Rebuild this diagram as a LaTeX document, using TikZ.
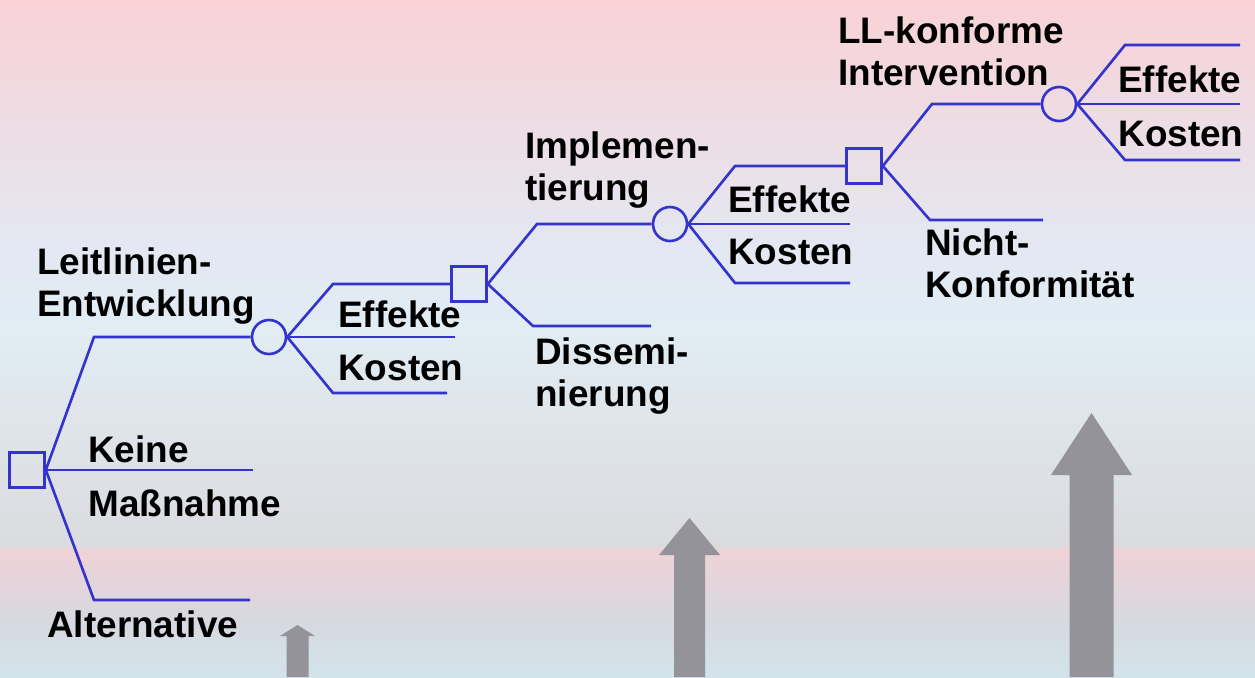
\documentclass[tikz,border=0pt]{standalone}
\usepackage{fontspec}
\setmainfont{Liberation Sans}
\usepackage{tikz}
\usetikzlibrary{positioning}
\definecolor{Branch}{HTML}{3434CC}
\definecolor{Arrow}{HTML}{939399}
\definecolor{BgPink}{HTML}{F9D2D6}
\definecolor{BgRose}{HTML}{F2D8DE}
\definecolor{BgLav}{HTML}{E3E8F2}
\definecolor{BgIce}{HTML}{E1ECF3}
\definecolor{BgGrey}{HTML}{DBDBDF}
\definecolor{BgBand}{HTML}{EFD2D6}
\definecolor{BgSlate}{HTML}{D7D8E0}
\definecolor{BgAqua}{HTML}{D2E4EA}

\begin{document}
\begin{tikzpicture}[x=0.02cm,y=-0.02cm,
  every node/.style={inner sep=0pt},
  decide/.style={draw=Branch,line width=1.5pt,minimum size=0.7cm},
  chance/.style={circle,draw=Branch,line width=1.5pt,minimum size=0.68cm},
  twig/.style={Branch,line width=1.5pt},
  lab/.style={font=\bfseries\fontsize{21}{23.9}\selectfont,anchor=base west,align=left}]
  \useasboundingbox (0,0) rectangle (1255,677);
  % background bands
  \foreach \ya/\yb/\ca/\cb in {0/71/BgPink/BgRose, 70/251/BgRose/BgLav,
      250/331/BgLav/BgIce, 330/549/BgIce/BgGrey, 548/621/BgBand/BgSlate,
      620/677/BgSlate/BgAqua} {
    \shade[top color=\ca,bottom color=\cb] (0,\ya) rectangle (1255,\yb);
  }
  % grey arrows
  \foreach \ax/\tip/\hb/\hw/\sw in {297.5/625/636/17.5/11, 689.5/518/555/30.5/15.5,
      1091.5/413/475/40.5/22} {
    \fill[Arrow] (\ax-\sw,677) -- (\ax-\sw,\hb) -- (\ax-\hw,\hb) -- (\ax,\tip)
      -- (\ax+\hw,\hb) -- (\ax+\sw,\hb) -- (\ax+\sw,677) -- cycle;
  }

  % decision and chance nodes
  \node[decide] (d1) at (27,470) {};
  \node[chance] (c1) at (269,337) {};
  \node[decide] (d2) at (469,284) {};
  \node[chance] (c2) at (670,224) {};
  \node[decide] (d3) at (864,166) {};
  \node[chance] (c3) at (1059,104) {};

  % bends and open ends
  \coordinate (leitB) at (94,337);
  \coordinate (keineE) at (253,470);
  \coordinate (altB) at (94,600);
  \coordinate (altE) at (250,600);
  \coordinate (eff1B) at (333,284);
  \coordinate (mid1E) at (455,337);
  \coordinate (kos1B) at (333,393);
  \coordinate (kos1E) at (447,393);
  \coordinate (implB) at (537,224);
  \coordinate (dissB) at (533,326);
  \coordinate (dissE) at (651,326);
  \coordinate (eff2B) at (735,166);
  \coordinate (mid2E) at (850,224);
  \coordinate (kos2B) at (735,283);
  \coordinate (kos2E) at (850,283);
  \coordinate (llkB) at (932,104);
  \coordinate (nichtB) at (930,220);
  \coordinate (nichtE) at (1043,220);
  \coordinate (eff3B) at (1125,45);
  \coordinate (eff3E) at (1240,45);
  \coordinate (mid3E) at (1240,104);
  \coordinate (kos3B) at (1125,160);
  \coordinate (kos3E) at (1240,160);

  % branches
  \draw[twig] (d1.east) -- (leitB) -- (c1.west);
  \draw[twig] (d1.east) -- (keineE);
  \draw[twig] (d1.east) -- (altB) -- (altE);
  \draw[twig] (c1.east) -- (eff1B) -- (d2.west);
  \draw[twig] (c1.east) -- (mid1E);
  \draw[twig] (c1.east) -- (kos1B) -- (kos1E);
  \draw[twig] (d2.east) -- (implB) -- (c2.west);
  \draw[twig] (d2.east) -- (dissB) -- (dissE);
  \draw[twig] (c2.east) -- (eff2B) -- (d3.west);
  \draw[twig] (c2.east) -- (mid2E);
  \draw[twig] (c2.east) -- (kos2B) -- (kos2E);
  \draw[twig] (d3.east) -- (llkB) -- (c3.west);
  \draw[twig] (d3.east) -- (nichtB) -- (nichtE);
  \draw[twig] (c3.east) -- (eff3B) -- (eff3E);
  \draw[twig] (c3.east) -- (mid3E);
  \draw[twig] (c3.east) -- (kos3B) -- (kos3E);

  % labels
  \node[lab] (leit) at (37,316) {Leitlinien-\\Entwicklung};
  \node[lab] (eff1) at (338,327) {Effekte};
  \node[lab] (kos1) at (338,380) {Kosten};
  \node[lab] (keine) at (88,516) {Keine\\[0.24cm]Maßnahme};
  \node[lab] (alt) at (47,637) {Alternative};
  \node[lab] (impl) at (525,200) {Implemen-\\tierung};
  \node[lab] (diss) at (535,406) {Dissemi-\\nierung};
  \node[lab] (eff2) at (728,212) {Effekte};
  \node[lab] (kos2) at (728,264) {Kosten};
  \node[lab] (llk) at (838,85) {LL-konforme\\Intervention};
  \node[lab] (nicht) at (925,297) {Nicht-\\Konformität};
  \node[lab] (eff3) at (1118,92) {Effekte};
  \node[lab] (kos3) at (1118,146) {Kosten};
\end{tikzpicture}
\end{document}
